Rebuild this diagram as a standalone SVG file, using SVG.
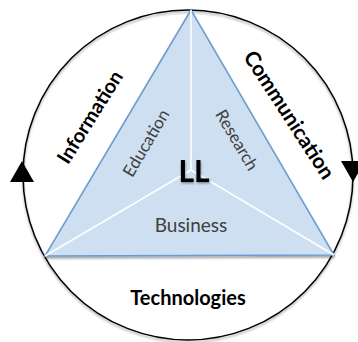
<svg xmlns="http://www.w3.org/2000/svg" width="358" height="342" viewBox="0 0 358 342">
<defs>
<style>
.outer{font-family:"Lato","Open Sans",sans-serif;font-weight:bold;fill:#000;text-anchor:middle}
.inner{font-family:"Lato","Open Sans",sans-serif;fill:#404040;text-anchor:middle}
</style>
<filter id="sh" x="-10%" y="-10%" width="120%" height="120%">
<feDropShadow dx="0" dy="2" stdDeviation="1.2" flood-color="#000" flood-opacity="0.35"/>
</filter>
<filter id="tsh" x="-20%" y="-20%" width="140%" height="140%">
<feDropShadow dx="0.5" dy="1.5" stdDeviation="1" flood-color="#000" flood-opacity="0.4"/>
</filter>
</defs>
<rect width="358" height="342" fill="#fff"/>
<g id="connectors">
<circle cx="188" cy="175" r="165" fill="none" stroke="#000" stroke-width="1.5" filter="url(#sh)"/>
<polygon points="22,161 10,182 34,182" fill="#000"/>
<polygon points="353,182 341,161 365,161" fill="#000"/>
</g>
<g id="triangle">
<polygon points="191,10 45,256 334,255" fill="#cddff1" stroke="#6b9bd1" stroke-width="1.5" filter="url(#sh)"/>
<g stroke="#fff" stroke-width="1.5">
<line x1="191" y1="10" x2="191" y2="170"/>
<line x1="45" y1="256" x2="191" y2="170"/>
<line x1="334" y1="255" x2="191" y2="170"/>
</g>
</g>
<g id="information"><text class="outer" font-size="20" transform="translate(90,117) rotate(-58)" y="7">Information</text></g>
<g id="communication"><text class="outer" font-size="21" transform="translate(289,115) rotate(57)" y="7">Communication</text></g>
<g id="technologies"><text class="outer" font-size="20" x="188" y="305">Technologies</text></g>
<g id="education"><text class="inner" font-size="17" transform="translate(146,143) rotate(-59.5)" y="6">Education</text></g>
<g id="research"><text class="inner" font-size="17" transform="translate(237,140) rotate(59.5)" y="6">Research</text></g>
<g id="business"><text class="inner" font-size="19" x="191" y="232">Business</text></g>
<g id="ll"><text class="outer" font-size="30" font-weight="900" x="194" y="182" filter="url(#tsh)">LL</text></g>
</svg>
